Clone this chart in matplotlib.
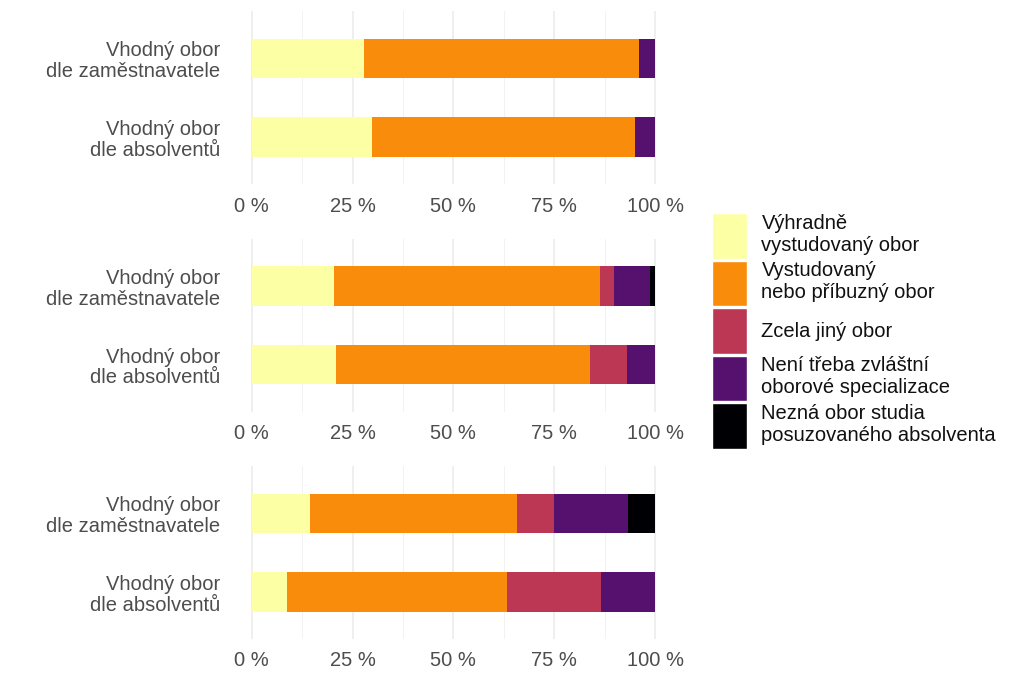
import matplotlib
matplotlib.use("Agg")
import matplotlib.pyplot as plt
from matplotlib.patches import Patch
from matplotlib.ticker import MultipleLocator, FuncFormatter

plt.rcParams['font.family'] = ['Liberation Sans', 'DejaVu Sans']

categories = ["Vhodný obor\ndle absolventů", "Vhodný obor\ndle zaměstnavatele"]
series_names = ["Výhradně\nvystudovaný obor",
                "Vystudovaný\nnebo příbuzný obor",
                "Zcela jiný obor",
                "Není třeba zvláštní\noborové specializace",
                "Nezná obor studia\nposuzovaného absolventa"]
colors = ["#FCFFA4", "#F98C0A", "#BB3754", "#56106E", "#000004"]

# each panel: values per series for [absolventi, zaměstnavatel] (in %)
panel1 = [[29.9, 27.9], [65.1, 68.1], [0.0, 0.0], [5.0, 4.0], [0.0, 0.0]]
panel2 = [[21.0, 20.5], [62.8, 65.9], [9.3, 3.4], [6.9, 9.0], [0.0, 1.2]]
panel3 = [[8.8, 14.4], [54.5, 51.4], [23.4, 9.2], [13.3, 18.4], [0.0, 6.6]]
panels = [panel1, panel2, panel3]
xticks = [0, 25, 50, 75, 100]

fig = plt.figure(figsize=(10.24, 6.82), dpi=100)
W, H = 1024, 682
ax_left = 231.5 / W
ax_width = 443.7 / W
bottoms = [1 - 184 / H, 1 - 411.6 / H, 1 - 639 / H]
height = 172.6 / H

for pv, b in zip(panels, bottoms):
    ax = fig.add_axes([ax_left, b, ax_width, height])
    ypos = range(len(categories))
    left = [0.0] * len(categories)
    for vals, col in zip(pv, colors):
        ax.barh(ypos, vals, left=left, height=0.5, color=col, edgecolor='none', zorder=3)
        left = [l + v for l, v in zip(left, vals)]
    ax.set_xlim(-5, 105)
    ax.set_ylim(-0.6, 1.6)
    ax.set_yticks(list(ypos))
    ax.set_yticklabels(categories, linespacing=1.12, multialignment='right')
    ax.xaxis.set_minor_locator(MultipleLocator(12.5))
    ax.set_xticks(xticks)
    ax.xaxis.set_major_formatter(FuncFormatter(lambda v, p: f"{int(v)} %"))
    ax.grid(True, which='major', axis='x', color='#EBEBEB', linewidth=1.1, zorder=0)
    ax.grid(True, which='minor', axis='x', color='#F2F2F2', linewidth=0.7, zorder=0)
    for s in ax.spines.values():
        s.set_visible(False)
    ax.tick_params(axis='both', which='both', length=0, labelsize=14.5, labelcolor='#4D4D4D')
    ax.tick_params(axis='y', pad=8)
    ax.tick_params(axis='x', pad=9)
    ax.set_xlim(-5, 105)

handles = [Patch(facecolor=c, edgecolor='white', linewidth=1.0) for c in colors]
leg = fig.legend(handles, series_names, loc='center left',
                 bbox_to_anchor=(698 / W, 1 - 331 / H), frameon=False,
                 fontsize=14.5, handlelength=1.75, handleheight=3.1,
                 labelspacing=0.1, handletextpad=0.7, borderpad=0.2)
for t in leg.get_texts():
    t.set_linespacing(1.2)
    t.set_color('#111111')

fig.savefig("out.png", dpi=100)
